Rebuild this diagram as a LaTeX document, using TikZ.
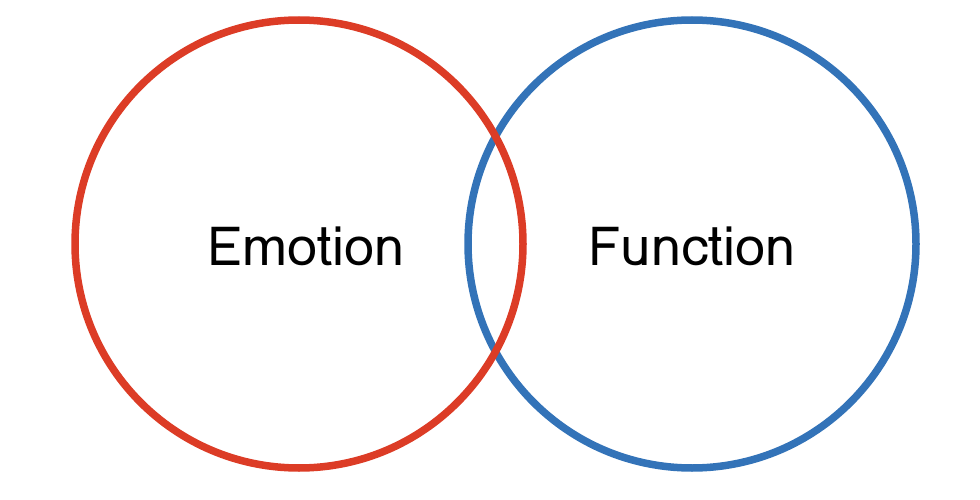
\documentclass[tikz,border=0pt]{standalone}
\usepackage{fontspec}
\newfontfamily\lomafont[Script=Thai]{Loma}
\definecolor{cred}{HTML}{DC3C26}
\definecolor{cblue}{HTML}{3373B8}
\begin{document}
\begin{tikzpicture}[x=1pt,y=-1pt,
  ring/.style={circle,minimum size=448pt,line width=7.5pt,inner sep=0pt},
  lab/.style={font=\lomafont\fontsize{54}{64}\selectfont}]
\useasboundingbox (0,0) rectangle (980,500);
\node[ring,draw=cblue] (fun) at (692,244) {};
\node[ring,draw=cred] (emo) at (299,244) {};
\node[lab] (emot) at (306,246) {Emotion};
\node[lab] (func) at (692,246) {Function};
\end{tikzpicture}
\end{document}
